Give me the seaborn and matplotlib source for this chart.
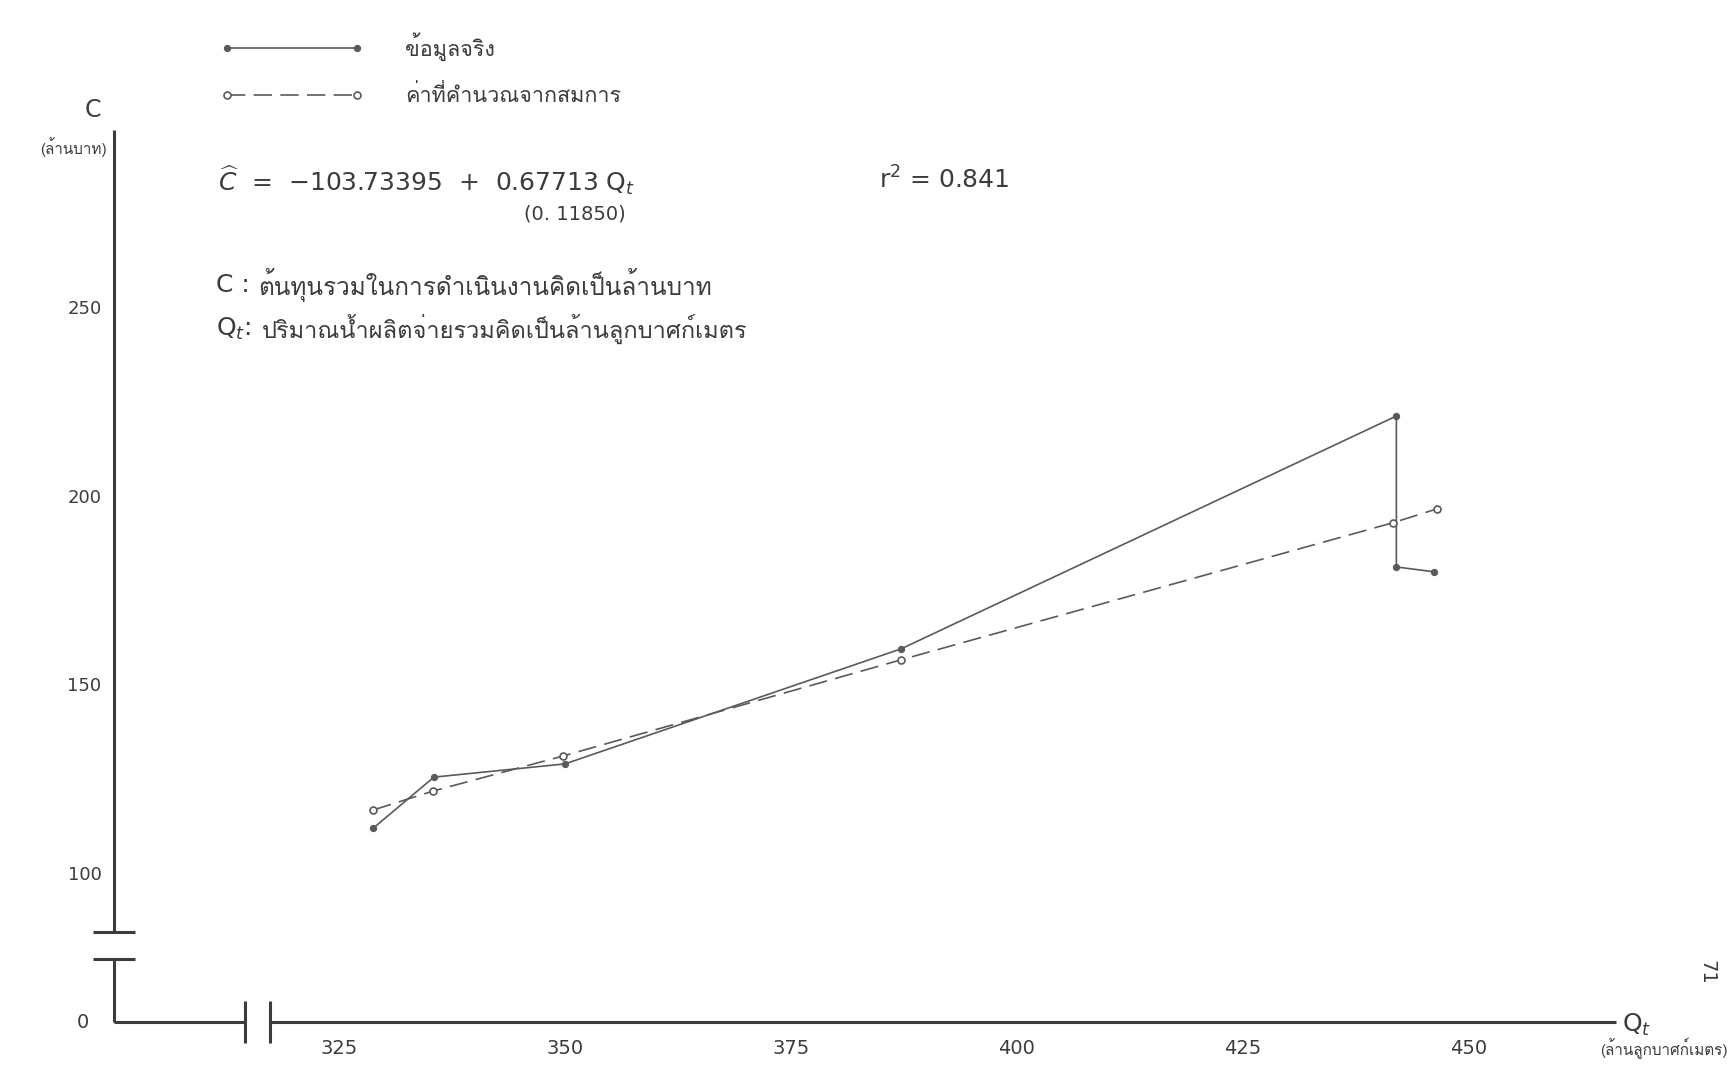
import matplotlib
matplotlib.use('Agg')
import matplotlib.pyplot as plt
from matplotlib import font_manager
from matplotlib.ft2font import FT2Font
import seaborn as sns
import pandas as pd

# values: Q_t (million m3) vs C (million baht)
q_actual = [328.8, 335.5, 350.0, 387.2, 442.0, 442.0, 446.2]
c_actual = [111.9, 125.4, 128.9, 159.4, 221.1, 181.1, 179.8]
q_fitted = [328.8, 335.4, 349.8, 387.2, 441.6, 446.5]
c_fitted = [116.7, 121.7, 131.0, 156.5, 192.8, 196.5]

x_ticks = [325, 350, 375, 400, 425, 450]
y_ticks = [100, 150, 200, 250]

label_actual = 'ข้อมูลจริง'
label_fitted = 'ค่าที่คำนวณจากสมการ'
def_c = 'ต้นทุนรวมในการดำเนินงานคิดเป็นล้านบาท'
def_q = 'ปริมาณน้ำผลิตจ่ายรวมคิดเป็นล้านลูกบาศก์เมตร'
unit_c = '(ล้านบาท)'
unit_q = '(ล้านลูกบาศก์เมตร)'


def thai_font():
    # first installed family that really has Thai glyphs
    for entry in font_manager.fontManager.ttflist:
        try:
            if 0x0E01 in FT2Font(entry.fname).get_charmap():
                return entry.name
        except Exception:
            pass
    return 'DejaVu Sans'


THAI = [thai_font(), 'DejaVu Sans']
INK = '#3c3c3c'
LINE = '#5a5a5a'
W, H = 1733, 1088

sns.set_style('white')
plt.rcParams['font.family'] = ['DejaVu Sans']
plt.rcParams['text.color'] = INK
plt.rcParams['xtick.color'] = INK
plt.rcParams['ytick.color'] = INK


def fx(px):
    return px / W


def fy(py):
    return 1 - py / H


fig = plt.figure(figsize=(W / 100, H / 100), dpi=100)
ax = fig.add_axes([fx(114), fy(1022), (1616 - 114) / W, (1022 - 130) / H])

df_actual = pd.DataFrame({'Q': q_actual, 'C': c_actual})
df_fitted = pd.DataFrame({'Q': q_fitted, 'C': c_fitted})

sns.lineplot(data=df_actual, x='Q', y='C', ax=ax, sort=False, estimator=None,
             color=LINE, lw=1.2, marker='o', markersize=4.5,
             markerfacecolor=LINE, markeredgecolor=LINE, label=label_actual)
sns.lineplot(data=df_fitted, x='Q', y='C', ax=ax, sort=False, estimator=None,
             color=LINE, lw=1.2, linestyle=(0, (11, 5)), marker='o', markersize=5,
             markerfacecolor='white', markeredgecolor=LINE, markeredgewidth=1.2,
             label=label_fitted)

x0, x1 = 300.1, 466.3
y0, y1 = 60.5, 296.9
ax.set_xlim(x0, x1)
ax.set_ylim(y0, y1)
for s in ax.spines.values():
    s.set_visible(False)

# hand-drawn style broken axes
ybrk = (77.2, 84.4)
xbrk = (314.6, 317.4)
akw = dict(color=INK, lw=2.2, clip_on=False, solid_capstyle='butt')
ax.plot([x0, x0], [y0, ybrk[0]], **akw)
ax.plot([x0, x0], [ybrk[1], y1], **akw)
for yb in ybrk:
    ax.plot([x0 - 2.3, x0 + 2.3], [yb, yb], **akw)
ax.plot([x0, xbrk[0]], [y0, y0], **akw)
ax.plot([xbrk[1], x1], [y0, y0], **akw)
for xb in xbrk:
    ax.plot([xb, xb], [y0 - 5.6, y0 + 5.6], **akw)

ax.set_xticks(x_ticks)
ax.set_yticks(y_ticks)
ax.tick_params(axis='y', direction='in', length=18, width=1.5, pad=9, labelsize=13)
ax.tick_params(axis='x', direction='in', length=14, width=1.5, pad=12, labelsize=14)
ax.set_xlabel('')
ax.set_ylabel('')

ax.legend(loc='upper left', bbox_to_anchor=(fx(221), fy(32)), bbox_transform=fig.transFigure,
          frameon=False, numpoints=2, handlelength=6.6, handletextpad=1.95,
          labelspacing=1.15, borderpad=0, borderaxespad=0,
          prop=font_manager.FontProperties(family=THAI, size=15.5))

# axis titles
fig.text(fx(93), fy(110), 'C', ha='center', va='center', fontsize=17)
fig.text(fx(73), fy(147), unit_c, ha='center', va='center', fontsize=11, family=THAI)
fig.text(fx(83), fy(1022), '0', ha='center', va='center', fontsize=14)
fig.text(fx(1622), fy(1025), r'Q$_t$', ha='left', va='center', fontsize=18)
fig.text(fx(1728), fy(1048), unit_q, ha='right', va='center', fontsize=11, family=THAI)

# regression note
fig.text(fx(218), fy(180), r'$\widehat{C}$  =  $-$103.73395  +  0.67713 Q$_t$',
         ha='left', va='center', fontsize=18)
fig.text(fx(575), fy(214), '(0. 11850)', ha='center', va='center', fontsize=14)
fig.text(fx(879), fy(180), r'r$^2$ = 0.841', ha='left', va='center', fontsize=18)
fig.text(fx(216), fy(285), 'C :', ha='left', va='center', fontsize=18)
fig.text(fx(258), fy(285), def_c, ha='left', va='center', fontsize=17.5, family=THAI)
fig.text(fx(216), fy(329), r'Q$_t$:', ha='left', va='center', fontsize=18)
fig.text(fx(262), fy(329), def_q, ha='left', va='center', fontsize=17, family=THAI)

fig.text(fx(1707), fy(972), '71', ha='center', va='center', fontsize=14, rotation=-90)

fig.savefig('out.png', dpi=100)
plt.close(fig)
